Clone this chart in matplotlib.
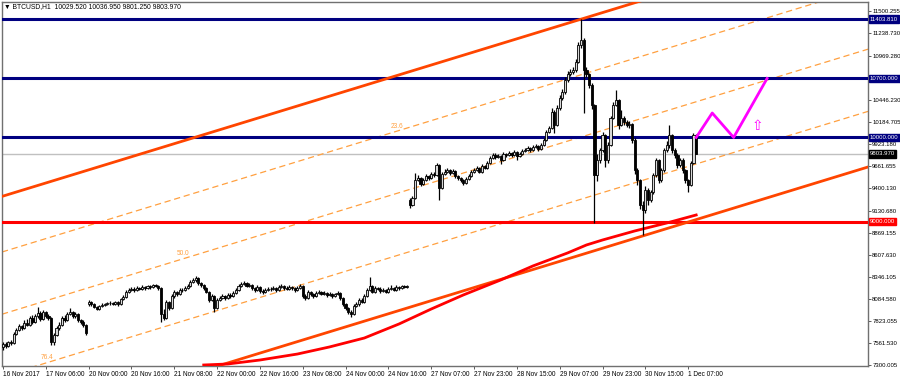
import matplotlib
matplotlib.use("Agg")
import matplotlib.pyplot as plt
import numpy as np

plt.rcParams['font.family'] = ['Liberation Sans', 'DejaVu Sans']

# hourly BTCUSD bars, 16 Nov 2017 14:00 -> 1 Dec 2017 10:00
close = [
    7549, 7525, 7573, 7561, 7668, 7715, 7763, 7739, 7798, 7774,
    7858, 7810, 7881, 7917, 7846, 7929, 7881, 7858, 7573, 7656,
    7739, 7774, 7858, 7834, 7905, 7929, 7881, 7905, 7834, 7810,
    7774, 7680, 8047, 8024, 7988, 7964, 8000, 8012, 8024, 8036,
    8036, 8024, 8047, 8024, 8083, 8107, 8166, 8190, 8202, 8190,
    8214, 8202, 8226, 8214, 8237, 8226, 8249, 8237, 8214, 7905,
    7858, 8047, 7976, 8119, 8166, 8142, 8190, 8190, 8214, 8237,
    8285, 8309, 8332, 8273, 8249, 8214, 8166, 8071, 8119, 7976,
    8071, 8095, 8119, 8095, 8130, 8119, 8154, 8190, 8237, 8261,
    8273, 8237, 8249, 8214, 8190, 8226, 8178, 8166, 8190, 8202,
    8202, 8214, 8190, 8226, 8237, 8214, 8202, 8226, 8214, 8190,
    8214, 8237, 8119, 8095, 8166, 8142, 8119, 8154, 8166, 8142,
    8154, 8130, 8142, 8119, 8142, 8154, 8095, 8024, 7976, 7929,
    7905, 8000, 8024, 8071, 8047, 8119, 8190, 8237, 8166, 8214,
    8202, 8178, 8190, 8166, 8202, 8214, 8190, 8226, 8214, 8237,
    8226, 8237,
    9198, 9281, 9495, 9519, 9448, 9495, 9543, 9519,
    9567, 9555, 9673, 9400, 9567, 9590, 9614, 9578, 9602, 9543,
    9519, 9495, 9459, 9507, 9543, 9590, 9614, 9638, 9590, 9661,
    9638, 9697, 9756, 9792, 9768, 9780, 9732, 9804, 9792, 9815,
    9792, 9827, 9780, 9804, 9839, 9851, 9875, 9851, 9887, 9899,
    9863, 9910, 9970, 10065, 10112, 10302, 10148, 10349, 10468, 10540,
    10682, 10753, 10777, 10800, 10895, 11097, 11156, 10800, 10753, 10622,
    10385, 9555, 9732, 9851, 10029, 9732, 9910, 10231, 10385, 10444,
    10148, 10231, 10183, 10148, 10160, 9970, 9614, 9495, 9198, 9139,
    9376, 9258, 9353, 9555, 9732, 9495, 9614, 9851, 9910, 10029,
    9851, 9792, 9673, 9732, 9614, 9495, 9436, 9700, 10029.52, 9803.97,
]
high = [
    7575, 7570, 7590, 7600, 7690, 7740, 7790, 7780, 7830, 7840,
    7880, 7890, 7910, 7985, 7940, 7950, 7945, 7900, 7870, 7680,
    7760, 7810, 7880, 7890, 7930, 7975, 7945, 7930, 7915, 7850,
    7830, 7790, 8070, 8060, 8035, 7995, 8015, 8030, 8040, 8050,
    8055, 8050, 8065, 8060, 8100, 8125, 8185, 8215, 8225, 8220,
    8235, 8230, 8245, 8240, 8255, 8250, 8265, 8260, 8255, 8225,
    7960, 8070, 8060, 8140, 8190, 8180, 8210, 8215, 8235, 8260,
    8305, 8330, 8350, 8345, 8290, 8265, 8230, 8180, 8140, 8130,
    8090, 8115, 8140, 8135, 8155, 8150, 8175, 8210, 8260, 8285,
    8300, 8290, 8270, 8265, 8230, 8245, 8240, 8200, 8210, 8225,
    8225, 8235, 8230, 8250, 8260, 8255, 8235, 8245, 8240, 8230,
    8235, 8260, 8250, 8140, 8185, 8180, 8160, 8175, 8190, 8180,
    8175, 8170, 8165, 8160, 8160, 8175, 8170, 8110, 8040, 7990,
    7950, 8020, 8045, 8090, 8095, 8140, 8210, 8344, 8255, 8235,
    8230, 8220, 8210, 8205, 8225, 8245, 8230, 8250, 8240, 8255,
    8250, 8255,
    9280, 9300, 9575, 9560, 9530, 9520, 9570, 9560,
    9590, 9585, 9700, 9680, 9590, 9620, 9640, 9625, 9630, 9610,
    9560, 9535, 9510, 9525, 9565, 9610, 9640, 9660, 9650, 9685,
    9675, 9720, 9780, 9815, 9810, 9800, 9790, 9825, 9820, 9840,
    9830, 9850, 9840, 9825, 9860, 9875, 9895, 9890, 9910, 9925,
    9910, 9935, 9990, 10090, 10140, 10350, 10330, 10380, 10500, 10580,
    10720, 10790, 10810, 10840, 10925, 11130, 11403.81, 11180, 10830, 10770,
    10640, 10400, 9800, 9880, 10070, 10040, 9950, 10260, 10420, 10563,
    10460, 10326, 10250, 10210, 10200, 10175, 9990, 9640, 9510, 9240,
    9420, 9400, 9380, 9580, 9760, 9750, 9640, 9880, 9960, 10150,
    10040, 9870, 9810, 9760, 9760, 9630, 9510, 9720, 10050, 10036.95,
]
low = [
    7480, 7500, 7515, 7540, 7550, 7650, 7700, 7720, 7725, 7760,
    7760, 7790, 7800, 7860, 7820, 7830, 7860, 7830, 7537, 7540,
    7640, 7720, 7760, 7810, 7820, 7890, 7860, 7860, 7810, 7790,
    7750, 7660, 8000, 8005, 7975, 7950, 7955, 7990, 8000, 8010,
    8015, 8010, 8010, 8005, 8015, 8070, 8095, 8150, 8175, 8170,
    8180, 8185, 8190, 8195, 8200, 8205, 8210, 8220, 8195, 7810,
    7830, 7850, 7950, 7965, 8100, 8120, 8130, 8165, 8175, 8200,
    8225, 8270, 8290, 8255, 8230, 8195, 8150, 8050, 8055, 7930,
    7960, 8055, 8080, 8070, 8080, 8100, 8105, 8140, 8175, 8220,
    8245, 8220, 8225, 8195, 8170, 8175, 8160, 8145, 8150, 8175,
    8180, 8185, 8170, 8175, 8210, 8195, 8185, 8190, 8195, 8170,
    8175, 8200, 8100, 8075, 8080, 8120, 8100, 8105, 8140, 8125,
    8130, 8110, 8115, 8100, 8105, 8130, 8075, 8000, 7955, 7900,
    7869, 7890, 7985, 8005, 8030, 8035, 8105, 8175, 8150, 8150,
    8185, 8160, 8165, 8150, 8155, 8190, 8175, 8180, 8195, 8200,
    8210, 8215,
    9160, 9185, 9270, 9480, 9420, 9430, 9480, 9500,
    9505, 9530, 9545, 9258, 9390, 9550, 9575, 9560, 9565, 9520,
    9495, 9470, 9440, 9445, 9490, 9530, 9580, 9600, 9575, 9580,
    9620, 9625, 9685, 9740, 9750, 9755, 9690, 9720, 9770, 9780,
    9770, 9780, 9730, 9770, 9790, 9825, 9835, 9830, 9840, 9870,
    9840, 9850, 9895, 9955, 10050, 10100, 10050, 10130, 10320, 10440,
    10520, 10660, 10730, 10750, 10780, 10880, 11060, 10290, 10720, 10590,
    10340, 8990, 9480, 9700, 9830, 9650, 9700, 9900, 10220, 10370,
    10100, 10130, 10150, 10120, 10110, 9930, 9570, 9440, 9150, 8842,
    9100, 9200, 9230, 9330, 9530, 9460, 9470, 9590, 9830, 9880,
    9820, 9760, 9640, 9650, 9580, 9460, 9353, 9420, 9680, 9801.25,
]
# opens where price gapped (otherwise open = previous close)
gap_open = {0: 7510, 32: 8020, 152: 9260}

# moving average read at a few bars
ma_bar = [75, 84, 96, 110, 122, 135, 148, 152, 160, 172, 186, 198, 211, 218, 224, 236, 248, 259]
ma_val = [7300, 7312, 7359, 7430, 7514, 7620, 7787, 7846, 7964, 8131, 8309, 8475, 8630,
          8724, 8783, 8890, 8985, 9080]

# fibo channel: level-0 line through two anchors, channel width in price
chan_bar = [0, 260]
chan_top = [9304, 11831]
chan_width = 2796
fib_levels = [0.236, 0.5, 0.764]
fib_names = ["23.6", "50.0", "76.4"]
fib_label_bar = [145, 65, 14]

levels_navy = [11403.81, 10700.0, 10000.0]
level_red = 9000.0
bid = 9803.97

fc_bar = [259, 265, 273, 285.5]
fc_price = [10000, 10290, 10000, 10700]

date_labels = ["16 Nov 2017", "17 Nov 06:00", "20 Nov 00:00", "20 Nov 16:00", "21 Nov 08:00",
               "22 Nov 00:00", "22 Nov 16:00", "23 Nov 08:00", "24 Nov 00:00", "24 Nov 16:00",
               "27 Nov 07:00", "27 Nov 23:00", "28 Nov 15:00", "29 Nov 07:00", "29 Nov 23:00",
               "30 Nov 15:00", "1 Dec 07:00"]
price_ticks = [7300.005, 7561.530, 7823.055, 8084.580, 8346.105, 8607.630, 8869.155, 9130.680,
               9400.130, 9661.655, 9923.180, 10184.705, 10446.230, 10969.280, 11238.730, 11500.255]

n = len(close)
opens = []
for i in range(n):
    opens.append(gap_open.get(i, close[i - 1] if i > 0 else close[0]))

fig = plt.figure(figsize=(9, 3.8), dpi=100)
ax = fig.add_axes([2 / 900, 14 / 380, 866 / 900, 364 / 380])
xmin, xmax = -0.37, 323.2
ax.set_xlim(xmin, xmax)
ax.set_ylim(7288, 11607)

# horizontal levels
for lv in levels_navy:
    ax.axhline(lv, color='#000080', lw=2.2, zorder=3)
ax.axhline(level_red, color='#FF0000', lw=2.2, zorder=3)
ax.axhline(bid, color='#C0C0C0', lw=1, zorder=1)

# channel
slope = (chan_top[1] - chan_top[0]) / (chan_bar[1] - chan_bar[0])
xs = np.array([xmin, xmax])
top = chan_top[0] + slope * (xs - chan_bar[0])
ax.plot(xs, top, color='#FF4500', lw=2, zorder=4)
ax.plot(xs, top - chan_width, color='#FF4500', lw=2, zorder=4)
for lvl, name, lb in zip(fib_levels, fib_names, fib_label_bar):
    ax.plot(xs, top - lvl * chan_width, color='#FFA040', lw=0.9, dashes=(5, 3), zorder=2)
    yl = chan_top[0] + slope * (lb - chan_bar[0]) - lvl * chan_width
    ax.text(lb, yl + 40, name, color='#FFA040', fontsize=4.7, ha='left', va='bottom')

# moving average
ax.plot(ma_bar, ma_val, color='#FF0000', lw=2, zorder=4)

# candles
idx = np.arange(n)
o = np.array(opens, dtype=float)
c = np.array(close, dtype=float)
ax.vlines(idx, low, high, color='black', lw=0.9, zorder=5)
bull = c >= o
body_lo = np.minimum(o, c)
body_h = np.maximum(np.abs(c - o), 5)
ax.bar(idx[bull], body_h[bull], bottom=body_lo[bull], width=0.8, color='#D8D8D8',
       edgecolor='black', lw=0.6, zorder=6)
ax.bar(idx[~bull], body_h[~bull], bottom=body_lo[~bull], width=0.8, color='black',
       edgecolor='black', lw=0.6, zorder=6)

# forecast path
ax.plot(fc_bar, fc_price, color='#FF00FF', lw=2, zorder=7)
ax.text(281.8, 10136, '\u21e7', color='#FF00FF', fontsize=10, ha='center', va='center',
        family=['DejaVu Sans'], zorder=7)

# axes styling
for sp in ax.spines.values():
    sp.set_color('#707070')
    sp.set_linewidth(1)
ax.yaxis.tick_right()
ax.set_yticks(price_ticks)
ax.set_yticklabels([f"{v:.3f}" for v in price_ticks])
ax.set_xticks(np.arange(0, 16 * len(date_labels), 16))
ax.set_xticklabels(date_labels, ha='left')
ax.tick_params(axis='x', direction='out', length=2.5, width=0.6, labelsize=4.7,
               color='#404040', pad=1)
ax.tick_params(axis='y', direction='out', length=2, width=0.6, labelsize=4.3,
               color='#404040', pad=1)

tr = ax.get_yaxis_transform()
box_lv = levels_navy + [bid, level_red]
box_col = ['#000080'] * 3 + ['black', '#FF0000']
for lv, col in zip(box_lv, box_col):
    ax.text(1.002, lv, f"{lv:.3f}", transform=tr, fontsize=4.3, color='white', ha='left',
            va='center', clip_on=False, zorder=10,
            bbox=dict(boxstyle='square,pad=0.2', fc=col, ec=col))

fig.text(4 / 900, 1 - 7 / 380, "\u25bc BTCUSD,H1  10029.520 10036.950 9801.250 9803.970",
         fontsize=4.9, va='center', ha='left', color='black')

fig.savefig("out.png", dpi=100, facecolor='white')
